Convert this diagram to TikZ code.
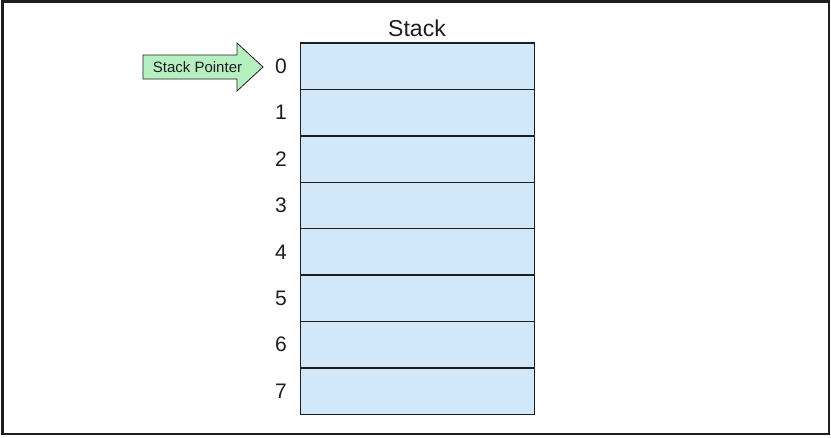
\documentclass[tikz,border=0pt]{standalone}
\usepackage{fontspec}
\setmainfont{Liberation Sans}
\definecolor{cellblue}{RGB}{208,232,250}
\definecolor{ptrgreen}{RGB}{183,240,192}
\definecolor{ink}{RGB}{30,30,30}
\begin{document}
\begin{tikzpicture}[x=1pt,y=-1pt,
  cell/.style={draw=ink,line width=1.4pt,fill=cellblue,minimum width=234pt,minimum height=46.4pt,inner sep=0pt,outer sep=0pt},
  idx/.style={font=\fontsize{21}{23}\selectfont,text=ink},
  ptrshape/.style={draw=ink,line width=0.8pt,fill=ptrgreen,line join=miter}]
\useasboundingbox (0,0) rectangle (831,437);
\draw[line width=2.2pt,draw=ink] (2.5,1.5) rectangle (829,434);
\foreach \i in {0,...,7}{
  \node[cell] (c\i) at (417.7,{66.2+46.4*\i}) {};
  \node[idx] (n\i) at (281,{66.2+46.4*\i}) {\i};
}
\node[font=\fontsize{23}{25}\selectfont,text=ink] (title) at (417,28) {Stack};
\draw[ptrshape] (143,55) -- (237,55) -- (237,43) -- (263,67) -- (237,91) -- (237,79) -- (143,79) -- cycle;
\node[font=\fontsize{15}{17}\selectfont,text=ink] (spl) at (197.5,67.5) {Stack Pointer};
\end{tikzpicture}
\end{document}
